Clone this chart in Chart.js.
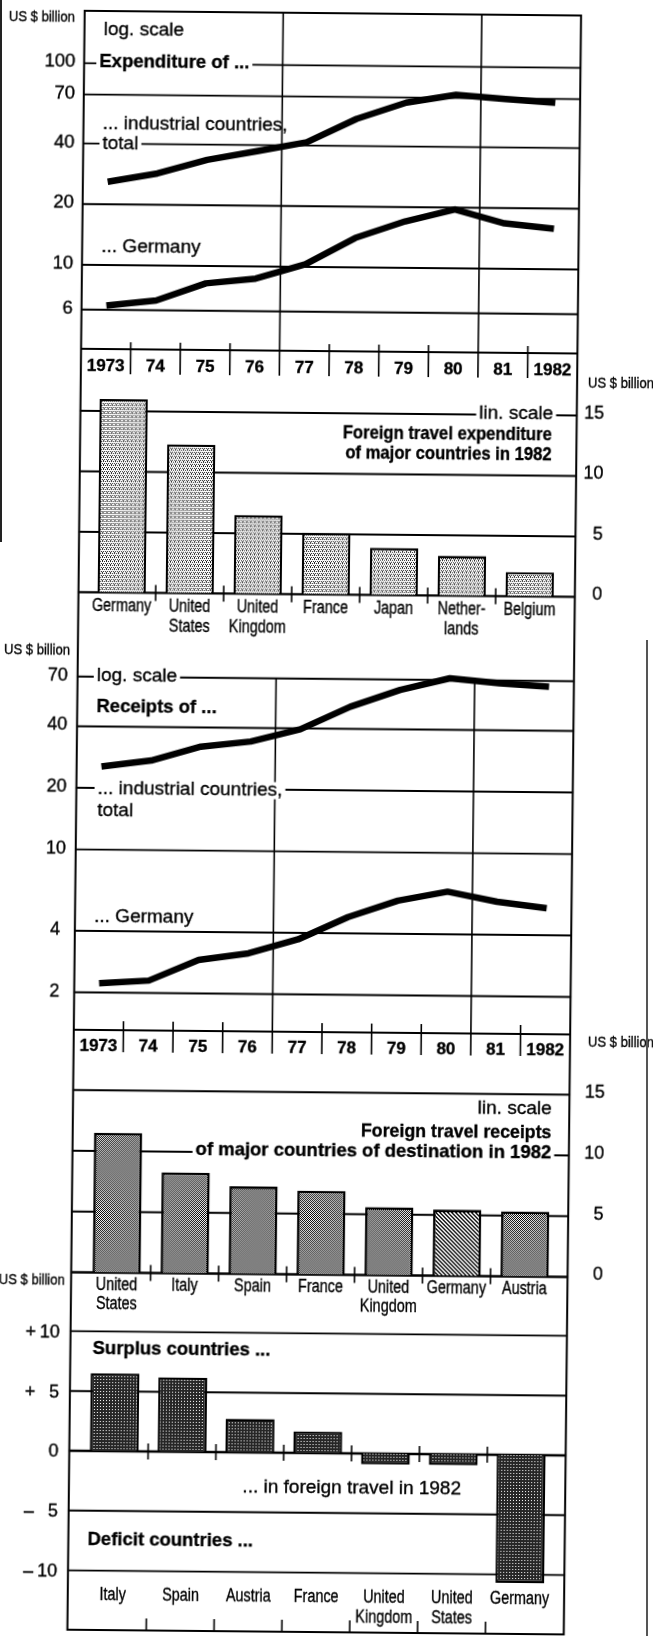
<!DOCTYPE html>
<html>
<head>
<meta charset="utf-8">
<title>Foreign travel expenditure and receipts</title>
<script src="https://cdn.jsdelivr.net/npm/chart.js@4.4.1/dist/chart.umd.min.js"></script>
<style>
  html, body { margin: 0; padding: 0; background: #fff; width: 653px; height: 1636px; overflow: hidden; position: relative; }
  /* the printed sheet sits slightly askew on the page */
  #sheet { position: absolute; left: 0; top: 0; width: 690px; height: 1636px;
           transform-origin: 0 0; transform: matrix(1, 0.0095, -0.0107, 1, 0, 0); }
  #sheet canvas { position: absolute; left: 0; top: 0; }
  .edge { position: absolute; }
</style>
</head>
<body>
<div id="sheet">
  <canvas id="expLines" width="690" height="1636"></canvas>
  <canvas id="expBars" width="690" height="1636"></canvas>
  <canvas id="recLines" width="690" height="1636"></canvas>
  <canvas id="recBars" width="690" height="1636"></canvas>
  <canvas id="balBars" width="690" height="1636"></canvas>
</div>
<div class="edge" style="left:0;top:0;width:2px;height:542px;background:#222"></div>
<div class="edge" style="left:646px;top:640px;width:1.5px;height:996px;background:#555"></div>
<script>
// ---------------- data (US $ billion) ----------------
const years = ['1973', '74', '75', '76', '77', '78', '79', '80', '81', '1982'];

const expIndustrial = [25.9, 28.6, 33.6, 37.3, 41.5, 54.5, 66.0, 72.5, 69.5, 67.0];
const expGermany    = [6.3, 6.7, 8.2, 8.7, 10.3, 14.0, 17.0, 19.6, 16.8, 15.9];

const recIndustrial = [25.5, 27.4, 32.2, 34.3, 39.6, 51.3, 62.3, 71.4, 67.9, 65.7];
const recGermany    = [2.22, 2.30, 2.92, 3.16, 3.72, 4.80, 5.81, 6.46, 5.80, 5.42];

const expCountries = [['Germany'], ['United', 'States'], ['United', 'Kingdom'], ['France'], ['Japan'], ['Nether-', 'lands'], ['Belgium']];
const expValues    = [16.0, 12.3, 6.5, 5.1, 3.9, 3.3, 2.0];

const recCountries = [['United', 'States'], ['Italy'], ['Spain'], ['France'], ['United', 'Kingdom'], ['Germany'], ['Austria']];
const recValues    = [11.5, 8.3, 7.2, 6.9, 5.6, 5.45, 5.35];

const balCountries = [['Italy'], ['Spain'], ['Austria'], ['France'], ['United', 'Kingdom'], ['United', 'States'], ['Germany']];
const balValues    = [6.5, 6.2, 2.8, 1.8, -0.9, -0.9, -10.7];

const logTicksExp = [100, 70, 40, 20, 10, 6];
const logTicksRec = [70, 40, 20, 10, 4, 2];
const linTicks    = [0, 5, 10, 15];
const balTicks    = [10, 5, 0, -5, -10];

// ---------------- layout ----------------
const CW = 690, H = 1636;
const INK = '#000';
const SANS = '"Liberation Sans", Arial, Helvetica, sans-serif';
const FRAME = { left: 84.8, right: 581.2, top: 10, bottom: 1629 };

const G1 = { top: 10, axis: 348, v10: 264, decade: 201.6 };
const G2 = { left: 94, right: 570, zero: 591.4, unit: 12.093 };
const G3 = { top: 675.8, mapTop: 640, axis: 1029, v10: 848.6, decade: 204.5 };
const G4 = { left: 96.3, right: 572.2, zero: 1271.5, unit: 12.147 };
const G5 = { left: 95.8, right: 570.6, zero: 1450, unit: 11.96 };

const pad = (l, r, t, b) => ({ left: l, right: CW - r, top: t, bottom: H - b });
const logMin = (g) => Math.pow(10, 1 - (g.axis - g.v10) / g.decade);
const logMax = (g, top) => Math.pow(10, 1 + (g.v10 - top) / g.decade);

// ---------------- drawing helpers ----------------
function seg(ctx, x1, y1, x2, y2, w) {
  ctx.beginPath();
  ctx.lineWidth = w;
  ctx.moveTo(x1, y1);
  ctx.lineTo(x2, y2);
  ctx.stroke();
}

function label(ctx, str, x, y, o) {
  o = o || {};
  const size = o.size || 19;
  ctx.save();
  ctx.font = (o.weight || 'normal') + ' ' + size + 'px ' + SANS;
  ctx.textBaseline = 'middle';
  ctx.textAlign = 'left';
  const sx = o.sx || 1;
  const w = ctx.measureText(str).width * sx;
  const x0 = o.align === 'right' ? x - w : (o.align === 'center' ? x - w / 2 : x);
  if (o.knock) {
    ctx.fillStyle = '#fff';
    ctx.fillRect(x0 - o.knock, y - size * 0.45, w + 2 * o.knock, size * 0.9);
  }
  ctx.fillStyle = INK;
  ctx.strokeStyle = INK;
  ctx.lineWidth = 0.35;
  ctx.translate(x0, y);
  ctx.scale(sx, 1);
  ctx.fillText(str, 0, 0);
  ctx.strokeText(str, 0, 0);
  ctx.restore();
}

const unitLabel = (ctx, x, y, align) => label(ctx, 'US $ billion', x, y, { size: 15, sx: 0.87, align: align });

function boundaries(xs, n) {
  const out = [];
  for (let i = 1; i < n; i++) out.push((xs.getPixelForValue(i - 1) + xs.getPixelForValue(i)) / 2);
  return out;
}

function yearAxis(chart, ctx, axisY, lineTop, tickTop, tickBot, labelY) {
  const xs = chart.scales.x;
  seg(ctx, FRAME.left, axisY, FRAME.right, axisY, 2);
  boundaries(xs, years.length).forEach((bx, k) => {
    const i = k + 1;
    if (i === 4 || i === 8) seg(ctx, bx, lineTop, bx, tickBot, 1.6);
    else seg(ctx, bx, tickTop, bx, tickBot, 1.6);
  });
  years.forEach((t, i) => label(ctx, t, xs.getPixelForValue(i), labelY, { weight: 'bold', size: 17, align: 'center' }));
}

function categoryLabels(chart, ctx, rows, y1, dy) {
  const xs = chart.scales.x;
  rows.forEach((lines, i) => lines.forEach((t, k) =>
    label(ctx, t, xs.getPixelForValue(i), y1 + k * dy, { size: 18, sx: 0.8, align: 'center' })));
}

function baseTicks(chart, ctx, n, y1, y2) {
  boundaries(chart.scales.x, n).forEach(bx => seg(ctx, bx, y1, bx, y2, 1.6));
}

function sheet(id, back, front) {
  const wrap = (fn) => (chart) => {
    const ctx = chart.ctx;
    ctx.save();
    ctx.strokeStyle = INK;
    ctx.lineCap = 'butt';
    fn(chart, ctx);
    ctx.restore();
  };
  return { id: id, beforeDatasetsDraw: wrap(back), afterDatasetsDraw: wrap(front) };
}

// ---------------- fills ----------------
function tile(size, paint) {
  const c = document.createElement('canvas');
  c.width = c.height = size;
  const g = c.getContext('2d');
  paint(g);
  return g.createPattern(c, 'repeat');
}
const fillLight = tile(4, g => {
  g.fillStyle = '#fff'; g.fillRect(0, 0, 4, 4);
  g.fillStyle = '#222';
  [[0, 0], [2, 0], [1, 2], [3, 2], [0, 3]].forEach(([x, y]) => g.fillRect(x, y, 1, 1));
});
const fillChecker = tile(2, g => {
  g.fillStyle = '#fff'; g.fillRect(0, 0, 2, 2);
  g.fillStyle = '#000'; g.fillRect(0, 0, 1, 1); g.fillRect(1, 1, 1, 1);
});
const fillHatch = tile(4, g => {
  g.fillStyle = '#fff'; g.fillRect(0, 0, 4, 4);
  g.fillStyle = '#111';
  for (let i = 0; i < 4; i++) { g.fillRect(i, i, 1, 1); g.fillRect((i + 1) % 4, i, 1, 1); }
});
const fillDark = tile(3, g => {
  g.fillStyle = '#262626'; g.fillRect(0, 0, 3, 3);
  g.fillStyle = '#fff'; g.fillRect(1, 1, 1, 1);
});

// ---------------- shared options ----------------
const base = {
  responsive: false,
  animation: false,
  devicePixelRatio: 1,
  events: [],
  plugins: { legend: { display: false }, tooltip: { enabled: false } }
};
const lineStyle = {
  borderColor: INK, borderWidth: 6.5, tension: 0, pointRadius: 0,
  borderJoinStyle: 'round', borderCapStyle: 'butt', fill: false
};

// ---------------- expenditure, log scale ----------------
new Chart(document.getElementById('expLines'), {
  type: 'line',
  data: { labels: years, datasets: [
    Object.assign({ data: expIndustrial }, lineStyle),
    Object.assign({ data: expGermany }, lineStyle)
  ] },
  options: Object.assign({}, base, {
    layout: { padding: pad(FRAME.left, FRAME.right, G1.top, G1.axis) },
    scales: {
      x: { type: 'category', offset: true, display: false },
      y: { type: 'logarithmic', display: false, min: logMin(G1), max: logMax(G1, G1.top) }
    }
  }),
  plugins: [sheet('expLinesSheet', (chart, ctx) => {
    const ys = chart.scales.y;
    ctx.lineWidth = 2;
    ctx.strokeRect(FRAME.left, FRAME.top, FRAME.right - FRAME.left, FRAME.bottom - FRAME.top);
    logTicksExp.forEach(v => {
      const y = ys.getPixelForValue(v);
      seg(ctx, FRAME.left, y, FRAME.right, y, 1.9);
      label(ctx, String(v), 76, y - 1, { size: 18.5, align: 'right' });
    });
    yearAxis(chart, ctx, G1.axis, FRAME.top, 341, 373, 365);
    unitLabel(ctx, 75, 16.5, 'right');
  }, (chart, ctx) => {
    const ys = chart.scales.y;
    label(ctx, 'log. scale', 104, 29);
    label(ctx, 'Expenditure of ...', 100, ys.getPixelForValue(100) - 1, { weight: 'bold', size: 18.5, knock: 3 });
    label(ctx, '... industrial countries,', 104, 123);
    label(ctx, 'total', 104, ys.getPixelForValue(40), { knock: 3 });
    label(ctx, '... Germany', 104, 246);
  })]
});

// ---------------- expenditure 1982, bars ----------------
new Chart(document.getElementById('expBars'), {
  type: 'bar',
  data: { labels: expCountries.map(r => r.join(' ')), datasets: [{
    data: expValues, backgroundColor: fillLight, borderColor: INK, borderWidth: 2.4,
    categoryPercentage: 1, barPercentage: 0.71
  }] },
  options: Object.assign({}, base, {
    layout: { padding: pad(G2.left, G2.right, G2.zero - 20 * G2.unit, G2.zero) },
    scales: {
      x: { type: 'category', offset: true, display: false },
      y: { type: 'linear', display: false, min: 0, max: 20 }
    }
  }),
  plugins: [sheet('expBarsSheet', (chart, ctx) => {
    const ys = chart.scales.y;
    linTicks.forEach(v => {
      const y = ys.getPixelForValue(v);
      seg(ctx, FRAME.left, y, FRAME.right, y, v === 0 ? 2.4 : 1.9);
      label(ctx, String(v), 608.5, y - 2, { size: 18, align: 'right' });
    });
    baseTicks(chart, ctx, expCountries.length, G2.zero - 8, G2.zero + 8);
    categoryLabels(chart, ctx, expCountries, 605, 20);
    unitLabel(ctx, 592, 377.5, 'left');
  }, (chart, ctx) => {
    const ys = chart.scales.y;
    label(ctx, 'lin. scale', 557.5, ys.getPixelForValue(15) - 1, { align: 'right', knock: 3 });
    label(ctx, 'Foreign travel expenditure', 556.5, 430, { weight: 'bold', size: 18.5, sx: 0.9, align: 'right' });
    label(ctx, 'of major countries in 1982', 556.5, 450, { weight: 'bold', size: 18.5, sx: 0.9, align: 'right' });
  })]
});

// ---------------- receipts, log scale ----------------
new Chart(document.getElementById('recLines'), {
  type: 'line',
  data: { labels: years, datasets: [
    Object.assign({ data: recIndustrial }, lineStyle),
    Object.assign({ data: recGermany }, lineStyle)
  ] },
  options: Object.assign({}, base, {
    layout: { padding: pad(FRAME.left, FRAME.right, G3.mapTop, G3.axis) },
    scales: {
      x: { type: 'category', offset: true, display: false },
      y: { type: 'logarithmic', display: false, min: logMin(G3), max: logMax(G3, G3.mapTop) }
    }
  }),
  plugins: [sheet('recLinesSheet', (chart, ctx) => {
    const ys = chart.scales.y;
    logTicksRec.forEach(v => {
      const y = ys.getPixelForValue(v);
      seg(ctx, FRAME.left, y, FRAME.right, y, 1.9);
      label(ctx, String(v), 65, y - 1, { size: 18, align: 'center' });
    });
    yearAxis(chart, ctx, G3.axis, ys.getPixelForValue(70), 1020, 1051, 1045);
    unitLabel(ctx, 77, 649.5, 'right');
  }, (chart, ctx) => {
    const ys = chart.scales.y;
    label(ctx, 'log. scale', 104, ys.getPixelForValue(70) - 1, { knock: 3 });
    label(ctx, 'Receipts of ...', 104, 705.5, { weight: 'bold', size: 18.5 });
    label(ctx, '... industrial countries,', 106, ys.getPixelForValue(20) + 1, { knock: 3 });
    label(ctx, 'total', 106, 809.5);
    label(ctx, '... Germany', 104, 915.5);
  })]
});

// ---------------- receipts 1982, bars ----------------
new Chart(document.getElementById('recBars'), {
  type: 'bar',
  data: { labels: recCountries.map(r => r.join(' ')), datasets: [{
    data: recValues,
    backgroundColor: recCountries.map(r => r[0] === 'Germany' ? fillHatch : fillChecker),
    borderColor: INK, borderWidth: 2.6, categoryPercentage: 1, barPercentage: 0.71
  }] },
  options: Object.assign({}, base, {
    layout: { padding: pad(G4.left, G4.right, G4.zero - 20 * G4.unit, G4.zero) },
    scales: {
      x: { type: 'category', offset: true, display: false },
      y: { type: 'linear', display: false, min: 0, max: 20 }
    }
  }),
  plugins: [sheet('recBarsSheet', (chart, ctx) => {
    const ys = chart.scales.y;
    linTicks.forEach(v => {
      const y = ys.getPixelForValue(v);
      seg(ctx, FRAME.left, y, FRAME.right, y, v === 0 ? 2.6 : 1.9);
      label(ctx, String(v), 616.5, y - 2, { size: 18, align: 'right' });
    });
    baseTicks(chart, ctx, recCountries.length, G4.zero - 8, G4.zero + 8);
    categoryLabels(chart, ctx, recCountries, 1284.5, 18.5);
    unitLabel(ctx, 599, 1036.5, 'left');
  }, (chart, ctx) => {
    const ys = chart.scales.y;
    label(ctx, 'lin. scale', 563.5, 1104, { align: 'right' });
    label(ctx, 'Foreign travel receipts', 563.5, 1127.5, { weight: 'bold', size: 18.5, sx: 0.96, align: 'right' });
    label(ctx, 'of major countries of destination in 1982', 563.5, ys.getPixelForValue(10) - 2,
      { weight: 'bold', size: 18.5, align: 'right', knock: 3 });
  })]
});

// ---------------- travel balance 1982, bars ----------------
new Chart(document.getElementById('balBars'), {
  type: 'bar',
  data: { labels: balCountries.map(r => r.join(' ')), datasets: [{
    data: balValues, backgroundColor: fillDark, borderColor: INK, borderWidth: 2.4,
    categoryPercentage: 1, barPercentage: 0.72
  }] },
  options: Object.assign({}, base, {
    layout: { padding: pad(G5.left, G5.right, G5.zero - 15 * G5.unit, G5.zero + 15 * G5.unit) },
    scales: {
      x: { type: 'category', offset: true, display: false },
      y: { type: 'linear', display: false, min: -15, max: 15 }
    }
  }),
  plugins: [sheet('balBarsSheet', (chart, ctx) => {
    const ys = chart.scales.y;
    balTicks.forEach(v => {
      const y = ys.getPixelForValue(v);
      seg(ctx, FRAME.left, y, FRAME.right, y, v === 0 ? 2.6 : 1.9);
      label(ctx, String(Math.abs(v)), 74, y + 1.5, { size: 18, align: 'right' });
      if (v !== 0) label(ctx, v > 0 ? '+' : '\u2013', 45, y + 1.5, { size: 18, align: 'center' });
    });
    baseTicks(chart, ctx, balCountries.length, G5.zero - 8, G5.zero + 8);
    baseTicks(chart, ctx, balCountries.length, FRAME.bottom - 12, FRAME.bottom);
    categoryLabels(chart, ctx, balCountries, 1594.5, 19.5);
    unitLabel(ctx, 78.5, 1280, 'right');
  }, (chart, ctx) => {
    label(ctx, 'Surplus countries ...', 107, 1347.5, { weight: 'bold', size: 18.5 });
    label(ctx, '... in foreign travel in 1982', 477, 1485, { align: 'right' });
    label(ctx, 'Deficit countries ...', 104, 1538.5, { weight: 'bold', size: 18.5 });
  })]
});
</script>
</body>
</html>
